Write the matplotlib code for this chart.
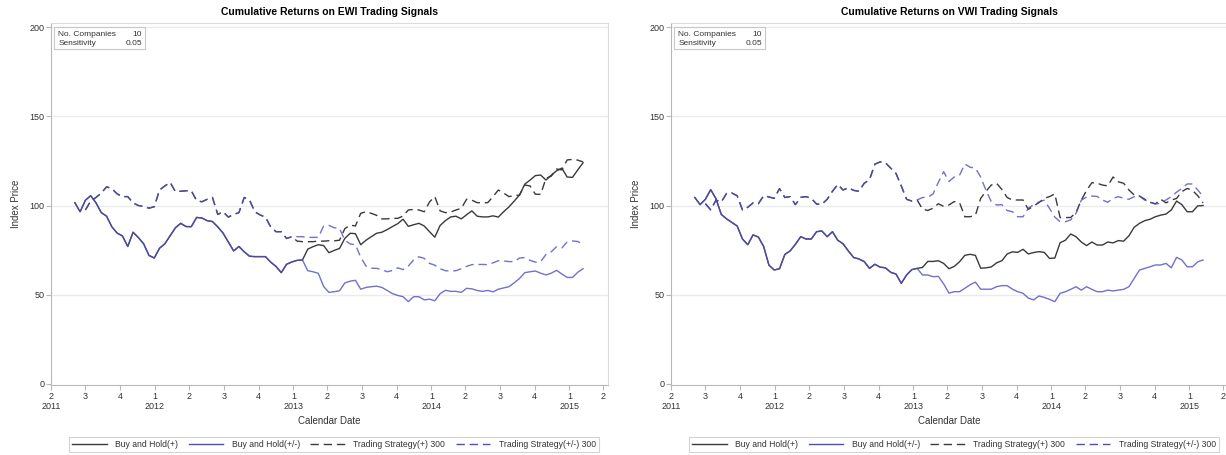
import numpy as np
import pandas as pd
import matplotlib
matplotlib.use("Agg")
import matplotlib.pyplot as plt
from matplotlib.lines import Line2D
from matplotlib.patches import Rectangle

plt.rcParams['font.family'] = ['Liberation Sans', 'DejaVu Sans']

nan = np.nan

# biweekly observation dates
dates = pd.date_range('2011-06-03', periods=97, freq='14D')

# ---------------- EWI ----------------
# Buy and Hold: (+) and (+/-) identical until early 2013
ewi_bh_common = [101.6, 96.5, 103, 105.5, 101.5, 96, 94, 88, 84.5, 82.9,
                 77, 85, 82, 78.5, 72, 70.5, 76, 78.5, 83, 87.5,
                 90, 88.2, 88.1, 93.3, 93, 91.5, 91, 88, 84.5, 79.5,
                 74.5, 77, 74, 71.5, 71.3, 71.3, 71.3, 68.2, 65.8, 62.3,
                 67, 68.3, 69.2, 69.4]
ewi_bh_plus_tail = [75.5, 76.9, 78, 77.5, 73.5, 74.8,
                    75.9, 81.5, 84.4, 84.2, 78, 80.5, 82.5, 84.4, 85, 86.5,
                    88.2, 89.8, 92.3, 88.3, 89.2, 90, 88.5, 85.3, 82.2, 88.8,
                    91.5, 93.6, 94, 92.5, 94.8, 97, 94, 93.6, 93.6, 94.2,
                    93.5, 96.5, 99.2, 102.5, 105.9, 112, 114.3, 116.8, 117.1, 114.3,
                    117, 119.5, 121, 116, 115.8, 120, 124]
ewi_bh_pm_tail = [63.4, 62.8, 61.9, 54.5, 51.2, 51.6,
                  52.1, 56.5, 57.5, 58, 53, 54, 54.4, 54.7, 54, 52.3,
                  50.5, 49.5, 48.8, 46, 48.8, 48.8, 47, 47.4, 46.5, 50.5,
                  52.4, 51.8, 51.8, 51.2, 53.5, 53.2, 52.3, 51.8, 52.3, 51.5,
                  53, 53.7, 54.4, 56.6, 59, 62.3, 62.8, 63.2, 62, 61,
                  62, 63.6, 61.5, 59.6, 59.6, 62.5, 64.5]
# Trading Strategy 300
ewi_ts_common = [nan, nan, 97.5, 102.5, 104.5, 107, 110.5, 109.5, 106.5, 105,
                 105, 101.5, 100, 99.5, 98.5, 99.3, 108.7, 111, 113, 107.8,
                 108, 108.3, 108.3, 102.8, 102.1, 103.5, 104.5, 95, 96.5, 93.5,
                 95, 96, 104.5, 103.1, 96.5, 94.7, 93.5, 88, 85.3, 85.3,
                 81.5, 82.5]
ewi_ts_plus_tail = [80, 79.7, 79.7, 79.7, 80, 80, 80.2, 80.2,
                    80.5, 87, 89, 88.5, 95.6, 96.5, 95.6, 94.5, 92.5, 92.5,
                    92.8, 92.8, 94.1, 97.5, 97.8, 97.5, 96.5, 102, 105, 97,
                    96, 96.3, 97.5, 98.4, 103.5, 103, 101.6, 101.6, 101.6, 105,
                    108.7, 107, 105, 105.5, 105.9, 111.5, 111, 106.3, 106.3, 115.3,
                    116.5, 120.5, 120, 125.6, 125.9, 125.5, 124.5]
ewi_ts_pm_tail = [82.5, 82.5, 82.1, 82.1, 82.1, 88.5, 88.8, 87.5,
                  87.2, 80.5, 78.4, 78, 71, 66, 64.8, 64.7, 64, 62.8,
                  63.5, 65, 64, 66, 69.5, 71.2, 70.3, 67.5, 66.5, 64.5,
                  63.4, 63.2, 63.4, 64.5, 65.8, 66.8, 66.9, 66.9, 66.8, 67.8,
                  69, 68.9, 68.5, 68.5, 70.5, 70.8, 69.2, 68.2, 68.5, 72.5,
                  74, 76.9, 76.2, 79.5, 80.1, 79.8, 78]

# ---------------- VWI ----------------
vwi_bh_common = [104.5, 100.5, 103.5, 108.9, 103.8, 95, 92.5, 90.5, 88.5, 81.2,
                 78, 83.5, 82.3, 77, 66.5, 63.8, 64.5, 72.5, 74.5, 78.2,
                 82.5, 81.2, 81.2, 85.3, 85.7, 82.5, 85.3, 80.5, 78.5, 74.5,
                 70.8, 70, 68.5, 64.7, 67, 65.4, 65, 62.5, 61.5, 56.3,
                 61, 64, 64.7]
vwi_bh_plus_tail = [65.2, 68.6, 68.6, 69, 67.5, 64.5, 65.8,
                    68.4, 72, 72.6, 72, 64.8, 65, 65.5, 67.8, 69, 72.8,
                    74, 73.7, 75.4, 72.8, 73.6, 74.1, 73.7, 70.3, 70.5, 79.1,
                    80.5, 84, 82.5, 79.5, 77.5, 79.5, 77.8, 77.8, 79.5, 79,
                    80.3, 80, 83, 87.8, 90, 91.5, 92.3, 93.7, 94.6, 95.2,
                    97.5, 102.5, 100.5, 96.5, 96.5, 99.8, 100]
vwi_bh_pm_tail = [61, 61, 60, 60.2, 56, 50.8, 51.6,
                  51.6, 53.5, 55.5, 57, 53, 53, 53, 54.4, 55, 55,
                  53, 51.6, 50.7, 48, 47, 49.2, 48.4, 47.3, 46, 50.7,
                  51.6, 52.9, 54.4, 52.5, 54.4, 52.9, 51.6, 51.6, 52.5, 52,
                  52.5, 52.9, 54.4, 59.1, 63.8, 64.7, 65.6, 66.6, 66.6, 67.5,
                  65, 70.9, 69.4, 65.6, 65.6, 68.4, 69.4]
vwi_ts_common = [nan, nan, 101, 97.6, 103, 102, 106.8, 107, 105.5, 97.5,
                 99, 101.5, 101, 105.5, 104.8, 104, 109.5, 104.5, 105, 100.5,
                 104.6, 105, 104, 100.8, 100.7, 103.5, 108, 111.8, 108.7, 110,
                 108.5, 108, 112.5, 114.5, 123.2, 124.5, 124, 121, 118, 111,
                 103.5, 102.5, 103.1]
vwi_ts_plus_tail = [98, 97.2, 98.5, 101, 99.5, 100.3, 102.2,
                    101.6, 93.7, 93.7, 94.5, 104, 108, 111.5, 112.5, 109, 104.5,
                    103.1, 103.1, 103.1, 97.8, 99.8, 101.6, 104, 105, 106.5, 93.2,
                    93.2, 93.3, 96, 103, 108.5, 112.8, 112.5, 111.5, 111, 116,
                    113.3, 112.5, 108.7, 105.9, 105.3, 103.5, 101.8, 100.9, 103.5, 101.5,
                    103, 104, 107.8, 109.6, 108.5, 105.5, 101.5]
vwi_ts_pm_tail = [104.5, 104.6, 106.5, 113, 119, 113.5, 116,
                  117, 123.3, 121.5, 121, 116, 108.5, 102.2, 100.3, 100.5, 97.2,
                  96.5, 93.7, 93.7, 98.5, 100.5, 102, 103, 98.4, 93.5, 90.9,
                  90.9, 91.9, 95.6, 103, 104.8, 105.3, 105.1, 103.1, 101.8, 104,
                  105, 104, 103.5, 105, 105.3, 103, 102, 100.9, 101.2, 103.1,
                  105, 107.5, 109.6, 112.1, 112.1, 108.7, 105.2]

legend_labels = ["Buy and Hold(+)", "Buy and Hold(+/-)",
                 "Trading Strategy(+) 300", "Trading Strategy(+/-) 300"]
info_labels = ["No. Companies", "Sensitivity"]
info_values = ["10", "0.05"]

BLACK = "#3a3a3a"
BLUE = "#4d4dc2"
FRAME = "#b8b8b8"
TXT = "#333333"
DASH = (6, 3.5)

quarters = pd.date_range('2011-04-01', '2015-04-01', freq='QS')
qlabels = []
for k, d in enumerate(quarters):
    q = (d.month - 1) // 3 + 1
    if q == 1 or k == 0:
        qlabels.append(f"{q}\n{d.year}")
    else:
        qlabels.append(f"{q}")


def panel(ax, title, bh_p, bh_pm, ts_p, ts_pm):
    ax.plot(dates, bh_p, color=BLACK, lw=1.0)
    ax.plot(dates, bh_pm, color=BLUE, lw=1.0, alpha=0.8)
    ax.plot(dates, ts_p, color=BLACK, lw=1.0, dashes=DASH)
    ax.plot(dates, ts_pm, color=BLUE, lw=1.0, alpha=0.8, dashes=DASH)

    ax.set_xlim(pd.Timestamp('2011-04-01'), pd.Timestamp('2015-04-13'))
    ax.set_ylim(-0.8, 202.5)
    ax.set_yticks([0, 50, 100, 150, 200])
    for v in [50, 100, 150, 200]:
        ax.axhline(v, color="#ebebeb", lw=1.0, zorder=0)
    ax.set_xticks(quarters)
    ax.set_xticklabels(qlabels, linespacing=1.2)
    ax.tick_params(axis='both', colors=FRAME, labelcolor=TXT, labelsize=6.5,
                   length=3.5, width=0.8, pad=1.2)
    for s in ax.spines.values():
        s.set_color(FRAME)
        s.set_linewidth(0.8)
    ax.spines['top'].set_color("#dcdcdc")
    ax.spines['right'].set_color("#dcdcdc")

    ax.set_title(title, fontsize=7.5, fontweight='bold', pad=6)
    ax.set_xlabel("Calendar Date", fontsize=7, color=TXT, labelpad=4)
    ax.set_ylabel("Index Price", fontsize=7, color=TXT, labelpad=6)

    # info box
    ax.add_patch(Rectangle((0.0054, 0.928), 0.1636, 0.061, transform=ax.transAxes,
                           fill=False, edgecolor="#c8c8c8", lw=0.8))
    for j, (lab, val) in enumerate(zip(info_labels, info_values)):
        y = 0.968 - j * 0.026
        ax.text(0.013, y, lab, transform=ax.transAxes, fontsize=6,
                color=TXT, va='center', ha='left')
        ax.text(0.163, y, val, transform=ax.transAxes, fontsize=6,
                color=TXT, va='center', ha='right')

    handles = [Line2D([], [], color=BLACK, lw=1.0),
               Line2D([], [], color=BLUE, lw=1.0),
               Line2D([], [], color=BLACK, lw=1.0, dashes=DASH),
               Line2D([], [], color=BLUE, lw=1.0, dashes=DASH)]
    leg = ax.legend(handles, legend_labels, loc='upper center',
                    bbox_to_anchor=(0.508, -0.133), ncol=4, fontsize=6.2,
                    frameon=True, fancybox=False, handlelength=4.0,
                    handletextpad=1.0, columnspacing=1.2, borderpad=0.35)
    leg.get_frame().set_edgecolor("#c8c8c8")
    leg.get_frame().set_linewidth(0.8)
    for t in leg.get_texts():
        t.set_color(TXT)


fig = plt.figure(figsize=(12.26, 4.55), dpi=100)
ax1 = fig.add_axes([51 / 1226, 70 / 455, 557 / 1226, 362 / 455])
ax2 = fig.add_axes([671 / 1226, 70 / 455, 557 / 1226, 362 / 455])

panel(ax1, "Cumulative Returns on EWI Trading Signals",
      ewi_bh_common + ewi_bh_plus_tail, ewi_bh_common + ewi_bh_pm_tail,
      ewi_ts_common + ewi_ts_plus_tail, ewi_ts_common + ewi_ts_pm_tail)
panel(ax2, "Cumulative Returns on VWI Trading Signals",
      vwi_bh_common + vwi_bh_plus_tail, vwi_bh_common + vwi_bh_pm_tail,
      vwi_ts_common + vwi_ts_plus_tail, vwi_ts_common + vwi_ts_pm_tail)

fig.savefig("out.png", dpi=100)
